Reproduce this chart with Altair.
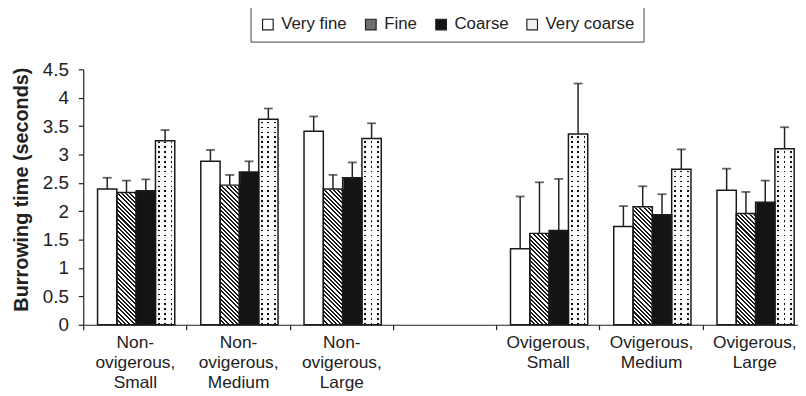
import math
import altair as alt
import pandas as pd

# ---------------- data ----------------
group_labels = [
    "Non-|ovigerous,|Small", "Non-|ovigerous,|Medium", "Non-|ovigerous,|Large",
    "Ovigerous,|Small", "Ovigerous,|Medium", "Ovigerous,|Large",
]
gap_label = " "
x_domain = group_labels[:3] + [gap_label] + group_labels[3:]
textures = ["Very fine", "Fine", "Coarse", "Very coarse"]

very_fine = [2.39, 2.88, 3.41, 1.34, 1.73, 2.37]
fine = [2.33, 2.46, 2.39, 1.61, 2.08, 1.96]
coarse = [2.36, 2.69, 2.59, 1.66, 1.94, 2.16]
very_coarse = [3.24, 3.62, 3.28, 3.36, 2.74, 3.10]

very_fine_se = [0.20, 0.20, 0.26, 0.92, 0.36, 0.38]
fine_se = [0.21, 0.18, 0.25, 0.90, 0.36, 0.38]
coarse_se = [0.20, 0.19, 0.27, 0.91, 0.36, 0.38]
very_coarse_se = [0.19, 0.19, 0.27, 0.89, 0.35, 0.38]

y_ticks = [0, 0.5, 1, 1.5, 2, 2.5, 3, 3.5, 4, 4.5]

means = [very_fine, fine, coarse, very_coarse]
ses = [very_fine_se, fine_se, coarse_se, very_coarse_se]
rows = []
for t, vals, errs in zip(textures, means, ses):
    for g, v, e in zip(group_labels, vals, errs):
        rows.append({"group": g, "texture": t, "mean": v, "upper": round(v + e, 3)})
df = pd.DataFrame(rows)

# ---------------- layout ----------------
FONT = "Liberation Sans"
PLOT_W = 730
PLOT_H = 258
OFF_PAD = 0.674
BAR_W = PLOT_W / len(x_domain) / (len(textures) + 2 * OFF_PAD)


def gradient_stops(n, segments):
    """segments: list of (fraction_start, fraction_end, colour) inside one period"""
    stops = []
    for i in range(n):
        for a, b, col in segments:
            stops.append(alt.GradientStop(offset=round((i + a) / n, 5), color=col))
            stops.append(alt.GradientStop(offset=round((i + b) / n, 5), color=col))
    return stops


CLEAR = "rgba(255,255,255,0)"

# diagonal hatch "\\\" on a full-height column
w, h = BAR_W, PLOT_H
k = (1 / h + 1 / w) / (1 / h ** 2 + 1 / w ** 2)
n_hatch = int(round((w + h) / math.sqrt(2) / (4.3 / math.sqrt(2))))
hatch_grad = alt.LinearGradient(
    gradient="linear", x1=0, y1=1, x2=k / h, y2=1 - k / w,
    stops=gradient_stops(n_hatch, [(0, 0.48, "#1a1a1a"), (0.48, 1, "#ffffff")]),
)
# dotted: horizontal dark lines, then white vertical stripes leaving windows
n_rows = int(round(PLOT_H / 5.0))
hline_grad = alt.LinearGradient(
    gradient="linear", x1=0, y1=0, x2=0, y2=1,
    stops=gradient_stops(n_rows, [(0, 0.66, CLEAR), (0.66, 1, "#111111")]),
)
vstripe_grad = alt.LinearGradient(
    gradient="linear", x1=0, y1=0, x2=1, y2=0,
    stops=gradient_stops(3, [(0, 0.36, "#ffffff"), (0.36, 0.64, CLEAR), (0.64, 1, "#ffffff")]),
)

x_enc = alt.X(
    "group:N",
    scale=alt.Scale(domain=x_domain, paddingInner=0, paddingOuter=0),
    title=None,
    axis=alt.Axis(
        labelExpr="split(datum.label, '|')", labelAngle=0, labelFont=FONT,
        labelFontSize=17.5, labelLineHeight=20, labelColor="#222", labelPadding=4,
        labelOverlap=False, tickBand="extent", tickSize=5, tickColor="#222",
        domainColor="#222", domainWidth=1.2, tickWidth=1.2, grid=False,
    ),
)
xo_enc = alt.XOffset(
    "texture:N",
    scale=alt.Scale(domain=textures, paddingInner=0, paddingOuter=OFF_PAD, align=0.55),
)
y_scale = alt.Scale(domain=[0, 4.5], nice=False, zero=True)
y_axis = alt.Axis(
    values=y_ticks, format="~g", labelFont=FONT, labelFontSize=19, labelColor="#222",
    labelPadding=10, labelOverlap=False, tickSize=5, tickColor="#222", tickWidth=1.2,
    domainColor="#222", domainWidth=1.2, grid=False, titleFont=FONT, titleFontSize=20,
    titleFontWeight="bold", titleColor="#222", titleX=-62, titleY=121, titleAngle=270,
    titleAlign="center", titleBaseline="middle",
)
Y_TITLE = "Burrowing time (seconds)"


def y_field(name):
    return alt.Y(name, type="quantitative", scale=y_scale, axis=y_axis, title=Y_TITLE)


def y_const(v):
    return alt.YDatum(v, type="quantitative", scale=y_scale, axis=y_axis, title=Y_TITLE)


base = alt.Chart(df)

bars = base.mark_bar(strokeWidth=0).encode(
    x=x_enc, xOffset=xo_enc, y=y_field("mean"),
    fill=alt.Fill(
        "texture:N",
        scale=alt.Scale(domain=textures, range=["#ffffff", "#6e6e6e", "#141414", "#f2f2f2"]),
        legend=alt.Legend(
            title=None, orient="none", direction="horizontal", legendX=169, legendY=-63,
            symbolType="square", symbolSize=115, symbolStrokeColor="#222",
            symbolStrokeWidth=1.2, labelFont=FONT, labelFontSize=17, labelColor="#222",
            labelOffset=5, columnPadding=15, padding=9, strokeColor="#444",
            fillColor="white", labelLimit=200,
        ),
    ),
)

hatch = base.transform_filter(alt.datum.texture == "Fine").mark_bar(
    fill=hatch_grad, strokeWidth=0
).encode(x=x_enc, xOffset=xo_enc, y=y_const(4.5), y2=alt.datum(0))

dots_h = base.transform_filter(alt.datum.texture == "Very coarse").mark_bar(
    fill=hline_grad, strokeWidth=0
).encode(x=x_enc, xOffset=xo_enc, y=y_const(4.5), y2=alt.datum(0))

dots_v = base.transform_filter(alt.datum.texture == "Very coarse").mark_bar(
    fill=vstripe_grad, strokeWidth=0
).encode(x=x_enc, xOffset=xo_enc, y=y_const(4.5), y2=alt.datum(0))

cover = base.transform_filter(
    (alt.datum.texture == "Fine") | (alt.datum.texture == "Very coarse")
).mark_bar(fill="white", stroke="white", strokeWidth=1.4).encode(
    x=x_enc, xOffset=xo_enc, y=y_field("mean"), y2=alt.datum(4.6)
)

outline = base.mark_bar(fillOpacity=0, stroke="#1a1a1a", strokeWidth=1.5).encode(
    x=x_enc, xOffset=xo_enc, y=y_field("mean")
)

err_rule = base.mark_rule(color="#222", strokeWidth=1.5).encode(
    x=x_enc, xOffset=xo_enc, y=y_field("mean"), y2="upper:Q"
)
err_cap = base.mark_tick(color="#222", thickness=1.8, size=9).encode(
    x=x_enc, xOffset=xo_enc, y=y_field("upper")
)

chart = alt.layer(
    bars, hatch, dots_h, dots_v, cover, outline, err_rule, err_cap
).properties(
    width=PLOT_W, height=PLOT_H,
    autosize=alt.AutoSizeParams(type="none"),
    padding={"left": 76, "top": 60, "right": -8, "bottom": 70},
    background="white",
).configure_view(stroke=None)

chart.save("out.html", embed_options={"renderer": "svg", "actions": False})
